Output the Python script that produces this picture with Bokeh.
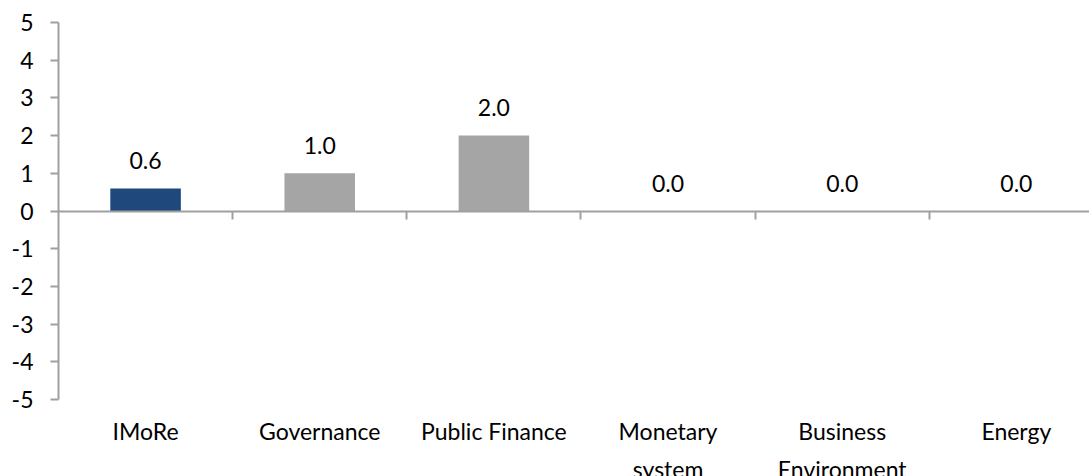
from bokeh.plotting import figure
from bokeh.models import LinearAxis, FixedTicker, Range1d, ColumnDataSource
from bokeh.core.properties import value
from bokeh.embed import file_html
from bokeh.resources import INLINE

categories = ["IMoRe", "Governance", "Public Finance", "Monetary\nsystem", "Business\nEnvironment", "Energy"]
values = [0.6, 1.0, 2.0, 0.0, 0.0, 0.0]
colors = ["#1F497D", "#A5A5A5", "#A5A5A5", "#A5A5A5", "#A5A5A5", "#A5A5A5"]
y_ticks = [-5, -4, -3, -2, -1, 0, 1, 2, 3, 4, 5]
y_tick_labels = ["-5", "-4", "-3", "-2", "-1", "0", "1", "2", "3", "4", "5"]

FONT = "Lato"
FS = "23px"
AXIS_COLOR = "#A0A0A0"

n = len(categories)
xc = [i + 0.5 for i in range(n)]
src = ColumnDataSource(dict(x=xc, top=values, color=colors,
                            label=[f"{v:.1f}" for v in values]))
csrc = ColumnDataSource(dict(x=xc, y=[y_ticks[0]] * n, label=categories))

p = figure(width=1089, height=476, output_backend="svg", toolbar_location=None,
           x_range=Range1d(0, 5.92), y_range=Range1d(-7.04, 5),
           min_border_left=58, min_border_top=22, min_border_right=0, min_border_bottom=0)
p.xaxis.visible = False
p.yaxis.visible = False
p.grid.visible = False
p.outline_line_color = None

p.vbar(x="x", top="top", bottom=0, width=0.405, color="color", line_color=None, source=src)
p.text(x="x", y="top", text="label", source=src, text_align="center",
       text_baseline="alphabetic", y_offset=-28, text_font=value(FONT),
       text_font_size=FS, text_color="#000000")

# category labels below the bottom of the value axis
p.text(x="x", y="y", text="label", source=csrc, text_align="center",
       text_baseline="top", y_offset=17, text_font=value(FONT),
       text_font_size=FS, text_color="#000000", text_line_height=1.38)

# y axis
yax = LinearAxis(ticker=FixedTicker(ticks=y_ticks), bounds=(y_ticks[0], y_ticks[-1]))
yax.axis_line_color = AXIS_COLOR
yax.axis_line_width = 2
yax.major_tick_line_color = AXIS_COLOR
yax.major_tick_line_width = 2
yax.major_tick_out = 8
yax.major_tick_in = 0
yax.minor_tick_line_color = None
yax.major_label_overrides = {t: l for t, l in zip(y_ticks, y_tick_labels)}
yax.major_label_standoff = 17
yax.major_label_text_font = FONT
yax.major_label_text_font_size = FS
yax.major_label_text_color = "#000000"
p.add_layout(yax, "left")

# zero line axis with category-boundary ticks
zax = LinearAxis(ticker=FixedTicker(ticks=list(range(1, n))), fixed_location=0)
zax.axis_line_color = AXIS_COLOR
zax.axis_line_width = 2
zax.major_tick_line_color = AXIS_COLOR
zax.major_tick_line_width = 2
zax.major_tick_out = 0
zax.major_tick_in = 8
zax.minor_tick_line_color = None
zax.major_label_overrides = {i: "" for i in range(1, n)}
zax.major_label_standoff = 0
zax.major_label_text_font_size = "1px"
p.add_layout(zax, "above")

open("out.html", "w").write(file_html(p, INLINE))
